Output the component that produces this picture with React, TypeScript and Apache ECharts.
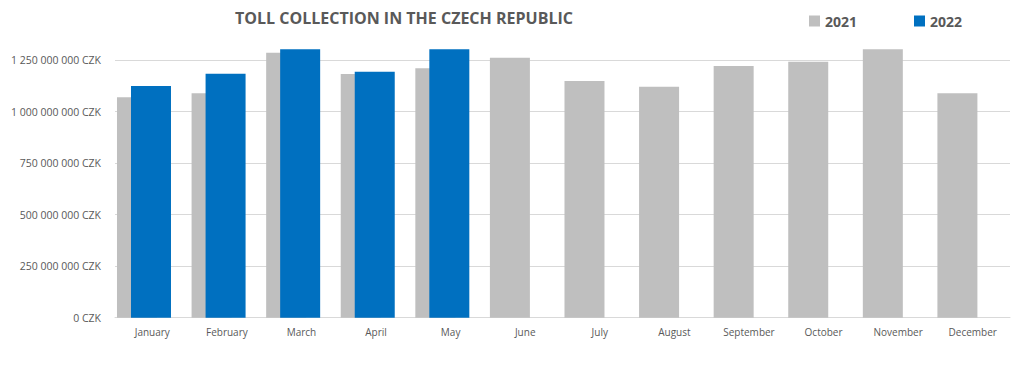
import React, { useEffect, useRef } from "react";
import * as echarts from "echarts";

const months = [
  "January", "February", "March", "April", "May", "June",
  "July", "August", "September", "October", "November", "December",
];
const toll2021 = [
  1070000000, 1089000000, 1286000000, 1183000000, 1211000000, 1262000000,
  1149000000, 1121000000, 1222000000, 1243000000, 1303000000, 1090000000,
];
const toll2022 = [
  1125000000, 1184000000, 1303000000, 1194000000, 1303000000,
  null, null, null, null, null, null, null,
];
const emptySlot = months.map(() => null);

const fmt = (v: number) =>
  String(v).replace(/\B(?=(\d{3})+(?!\d))/g, " ") + " CZK";

export default function App() {
  const ref = useRef<HTMLDivElement>(null);
  useEffect(() => {
    if (!ref.current) return;
    const chart = echarts.init(ref.current, undefined, { renderer: "svg" });
    const font = "'Open Sans', 'Liberation Sans', sans-serif";
    chart.setOption({
      animation: false,
      backgroundColor: "#ffffff",
      title: {
        text: "TOLL COLLECTION IN THE CZECH REPUBLIC",
        left: 230,
        top: 5,
        textStyle: {
          fontFamily: font,
          fontSize: 16,
          fontWeight: "bold",
          color: "#595959",
        },
      },
      legend: {
        data: ["2021", "2022"],
        left: 804,
        top: 9,
        itemWidth: 11,
        itemHeight: 11,
        itemGap: 57,
        icon: "rect",
        textStyle: {
          fontFamily: font,
          fontSize: 14,
          fontWeight: "bold",
          color: "#595959",
        },
      },
      grid: { left: 115, right: 14, top: 29.3, bottom: 66.3, containLabel: false },
      xAxis: {
        type: "category",
        data: months,
        axisLine: { lineStyle: { color: "#D9D9D9" } },
        axisTick: { show: false },
        axisLabel: { fontFamily: font, fontSize: 10, color: "#595959", margin: 9 },
      },
      yAxis: {
        type: "value",
        min: 0,
        max: 1400000000,
        interval: 250000000,
        axisLine: { show: false },
        axisTick: { show: false },
        splitLine: { lineStyle: { color: "#D9D9D9" }, showMaxLine: false },
        axisLabel: {
          fontFamily: font,
          fontSize: 10.5,
          color: "#595959",
          margin: 14,
          showMaxLabel: false,
          formatter: (v: number) => fmt(v),
        },
      },
      series: [
        {
          name: "2021",
          type: "bar",
          data: toll2021,
          barWidth: 40,
          barGap: "-65%",
          itemStyle: { color: "#BFBFBF" },
        },
        {
          name: "2022",
          type: "bar",
          data: toll2022,
          barWidth: 40,
          barGap: "-65%",
          itemStyle: { color: "#0070C0" },
        },
        {
          name: "spacer",
          type: "bar",
          data: emptySlot,
          barWidth: 42.6,
          silent: true,
          itemStyle: { color: "transparent" },
        },
      ],
    });
    return () => chart.dispose();
  }, []);
  return (
    <div
      ref={ref}
      style={{ position: "fixed", left: 0, top: 0, width: 1024, height: 384 }}
    />
  );
}
